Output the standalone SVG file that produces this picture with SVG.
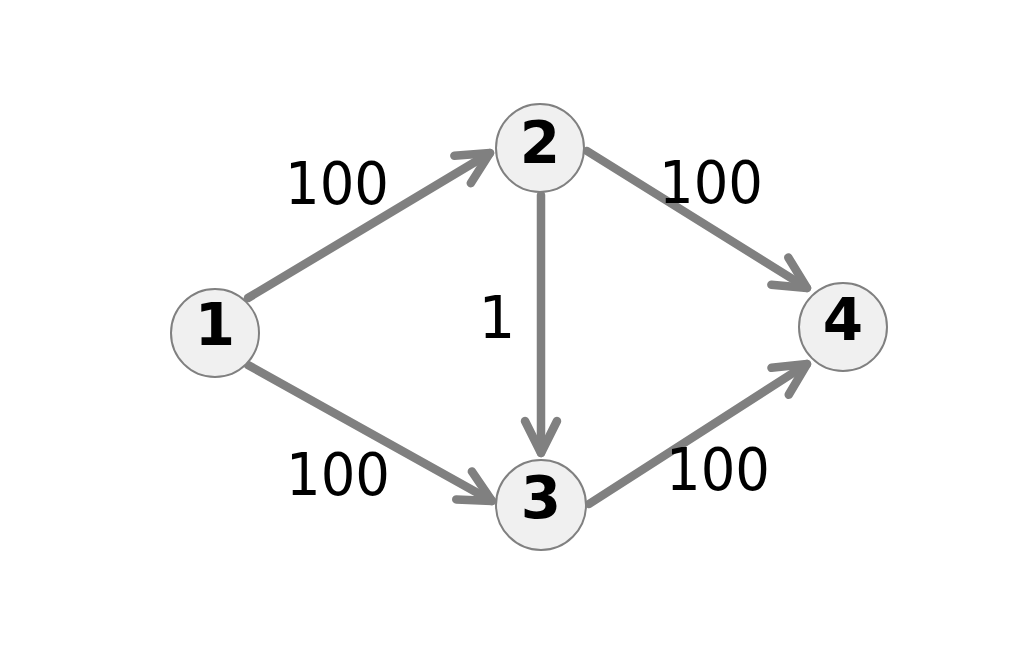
<svg xmlns="http://www.w3.org/2000/svg" width="1023" height="647" viewBox="0 0 1023 647">
<style>
.edge{stroke:#808080;stroke-width:8.5;stroke-linecap:round;fill:none}
.node circle{fill:#f0f0f0;stroke:#808080;stroke-width:2}
.node text{font-family:"DejaVu Sans",Verdana,sans-serif;font-weight:bold;font-size:58px;fill:#000;text-anchor:middle}
.lbl{font-family:"DejaVu Sans",Verdana,sans-serif;font-size:58px;fill:#000;text-anchor:middle}
</style>
<defs>
<marker id="arr" markerUnits="userSpaceOnUse" orient="auto" markerWidth="60" markerHeight="60" refX="0" refY="0" viewBox="-45 -30 60 60" overflow="visible">
<path d="M-32,-16 L0,0 L-32,16" fill="none" stroke="#808080" stroke-width="8.5" stroke-linecap="round" stroke-linejoin="round"/>
</marker>
</defs>
<rect width="1023" height="647" fill="#fff"/>
<g id="connectors">
<line class="edge" x1="248" y1="298" x2="490" y2="153" marker-end="url(#arr)"/>
<line class="edge" x1="248" y1="365" x2="492" y2="501" marker-end="url(#arr)"/>
<line class="edge" x1="541" y1="195" x2="541" y2="453" marker-end="url(#arr)"/>
<line class="edge" x1="587" y1="151" x2="807" y2="288" marker-end="url(#arr)"/>
<line class="edge" x1="589" y1="504" x2="807" y2="364" marker-end="url(#arr)"/>
</g>
<g id="labels">
<text class="lbl" x="337" y="204" textLength="104" lengthAdjust="spacingAndGlyphs">100</text>
<text class="lbl" x="711" y="203" textLength="104" lengthAdjust="spacingAndGlyphs">100</text>
<text class="lbl" x="497" y="338">1</text>
<text class="lbl" x="338" y="495" textLength="104" lengthAdjust="spacingAndGlyphs">100</text>
<text class="lbl" x="718" y="490" textLength="104" lengthAdjust="spacingAndGlyphs">100</text>
</g>
<g id="node1" class="node"><circle cx="215" cy="333" r="44"/><text x="215" y="345">1</text></g>
<g id="node2" class="node"><circle cx="540" cy="148" r="44"/><text x="540" y="163">2</text></g>
<g id="node3" class="node"><circle cx="541" cy="505" r="45"/><text x="541" y="518">3</text></g>
<g id="node4" class="node"><circle cx="843" cy="327" r="44"/><text x="843" y="340">4</text></g>
</svg>
